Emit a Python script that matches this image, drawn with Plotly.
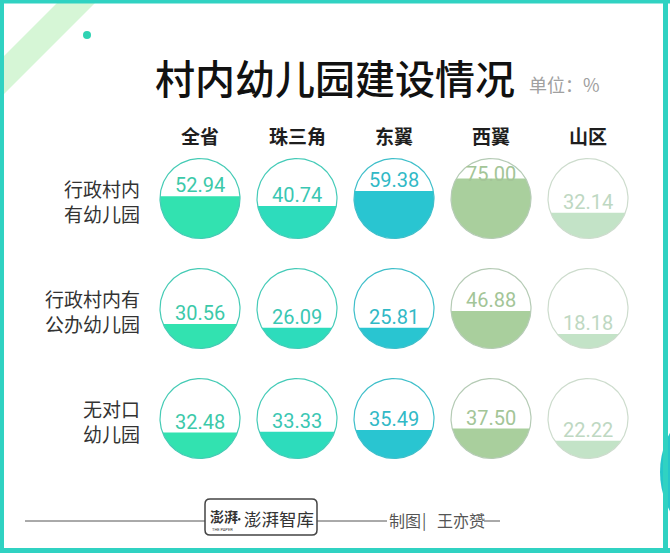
import numpy as np
import plotly.graph_objects as go

# ---- data ----
regions = ["全省", "珠三角", "东翼", "西翼", "山区"]
row_labels = ["行政村内<br>有幼儿园", "行政村内有<br>公办幼儿园", "无对口<br>幼儿园"]
has_kindergarten = [52.94, 40.74, 59.38, 75.00, 32.14]
has_public_kindergarten = [30.56, 26.09, 25.81, 46.88, 18.18]
no_matching_kindergarten = [32.48, 33.33, 35.49, 37.50, 22.22]
rows = [has_kindergarten, has_public_kindergarten, no_matching_kindergarten]

title = "村内幼儿园建设情况"
unit = "单位：%"

# ---- styles ----
fill_colors = ["#32e2b0", "#2ddcbc", "#29c5d1", "#a9cf9d", "#c3e3c7"]
line_colors = ["#45cbb5", "#45cbb8", "#3fbfca", "#b5cbb5", "#cddccd"]
text_colors = ["#3cc9a9", "#3ac7b3", "#31b9c6", "#a3c597", "#bed8c2"]

W, H = 670, 553
col_x0, col_dx = 200, 97
row_y0, row_dy = 198.5, 110
R = 40

fig = go.Figure()
annotations = []
shapes = []

for j, vals in enumerate(rows):
    cy = row_y0 + row_dy * j
    for i, v in enumerate(vals):
        cx = col_x0 + col_dx * i
        h = 2 * R * v / 100.0
        y_line = cy + R - h
        d = (y_line - cy) / R
        a0 = np.arcsin(np.clip(d, -1, 1))
        th = np.linspace(a0, np.pi - a0, 120)
        xs = cx + R * np.cos(th)
        ys = cy + R * np.sin(th)
        fig.add_trace(go.Scatter(
            x=np.append(xs, xs[0]), y=np.append(ys, ys[0]),
            mode="lines", fill="toself", fillcolor=fill_colors[i],
            line=dict(width=0, color=fill_colors[i]),
            hoverinfo="skip", showlegend=False))
        t = np.linspace(0, 2 * np.pi, 241)
        fig.add_trace(go.Scatter(
            x=cx + R * np.cos(t), y=cy + R * np.sin(t),
            mode="lines", line=dict(width=1.2, color=line_colors[i]),
            hoverinfo="skip", showlegend=False))
        ty = max(y_line - 11, cy - R + 15)
        annotations.append(dict(
            x=cx, y=ty, text=f"{v:.2f}", showarrow=False,
            xanchor="center", yanchor="middle",
            font=dict(family="Roboto", size=20, color=text_colors[i])))
    annotations.append(dict(
        x=142, y=cy + 2, text=row_labels[j], showarrow=False,
        xanchor="right", yanchor="middle", align="right",
        font=dict(family="Noto Sans CJK SC", size=19, color="#333333")))

for i, name in enumerate(regions):
    annotations.append(dict(
        x=col_x0 + col_dx * i, y=135, text=f"<b>{name}</b>", showarrow=False,
        xanchor="center", yanchor="middle",
        font=dict(family="Noto Sans CJK SC", size=19, color="#1e1e1e")))

# title & unit
annotations.append(dict(x=335, y=77, text=title, showarrow=False,
                        xanchor="center", yanchor="middle",
                        font=dict(family="Noto Sans CJK SC", size=40, color="#111111",
                                  weight=500)))
annotations.append(dict(x=527, y=84, text=unit, showarrow=False,
                        xanchor="left", yanchor="middle",
                        font=dict(family="Noto Sans CJK SC", size=18, color="#a0a0a0")))

# footer
annotations.append(dict(x=208, y=516, text="<b>澎湃</b>", showarrow=False,
                        xanchor="left", yanchor="middle",
                        font=dict(family="Noto Sans CJK SC", size=14, color="#333333")))
annotations.append(dict(x=242, y=518, text="澎湃智库", showarrow=False,
                        xanchor="left", yanchor="middle",
                        font=dict(family="Noto Sans CJK SC", size=17.5, color="#333333")))
annotations.append(dict(x=210, y=529, text="THE PAPER", showarrow=False,
                        xanchor="left", yanchor="middle",
                        font=dict(family="Roboto", size=4, color="#333333")))
annotations.append(dict(x=387, y=520, text="制图", showarrow=False,
                        xanchor="left", yanchor="middle",
                        font=dict(family="Noto Sans CJK SC", size=16, color="#555555")))
annotations.append(dict(x=424, y=519, text="|", showarrow=False,
                        xanchor="center", yanchor="middle",
                        font=dict(family="Noto Sans CJK SC", size=16, color="#555555")))
annotations.append(dict(x=435, y=520, text="王亦赟", showarrow=False,
                        xanchor="left", yanchor="middle",
                        font=dict(family="Noto Sans CJK SC", size=16, color="#555555")))
shapes.append(dict(type="circle", x0=238, x1=240.5, y0=518, y1=520.5,
                   fillcolor="#333333", line=dict(width=0)))

line_col = "#555555"
for x0, x1 in [(25, 205), (317, 387), (484, 500)]:
    shapes.append(dict(type="line", x0=x0, x1=x1, y0=521, y1=521,
                       line=dict(color=line_col, width=1), layer="below"))
shapes.append(dict(type="path",
                   path="M 210 499 L 312 499 Q 317 499 317 504 L 317 530 Q 317 535 312 535 "
                        "L 210 535 Q 205 535 205 530 L 205 504 Q 205 499 210 499 Z",
                   line=dict(color="#444444", width=1.5), fillcolor="rgba(0,0,0,0)"))

# decorations
shapes.append(dict(type="path", path="M 60 0 L 98 0 L 0 98 L 0 60 Z",
                   fillcolor="#d6f6d6", line=dict(width=0), layer="below"))
shapes.append(dict(type="circle", x0=83, x1=91, y0=31, y1=39,
                   fillcolor="#2fd3b3", line=dict(width=0)))
shapes.append(dict(type="circle", x0=660, x1=824, y0=390, y1=554,
                   fillcolor="#25c6ca", line=dict(width=0)))
border = "#30d2c2"
shapes.append(dict(type="rect", x0=0, x1=670, y0=0, y1=3.5, fillcolor=border, line=dict(width=0)))
shapes.append(dict(type="rect", x0=0, x1=4, y0=0, y1=553, fillcolor=border, line=dict(width=0)))
shapes.append(dict(type="rect", x0=663, x1=668, y0=0, y1=553, fillcolor=border, line=dict(width=0)))
shapes.append(dict(type="rect", x0=0, x1=670, y0=548, y1=553, fillcolor=border, line=dict(width=0)))

fig.update_layout(
    width=W, height=H, margin=dict(l=0, r=0, t=0, b=0),
    paper_bgcolor="white", plot_bgcolor="white",
    xaxis=dict(range=[0, W], visible=False, fixedrange=True),
    yaxis=dict(range=[H, 0], visible=False, fixedrange=True),
    annotations=annotations, shapes=shapes, showlegend=False,
)
fig.write_html("out.html")
